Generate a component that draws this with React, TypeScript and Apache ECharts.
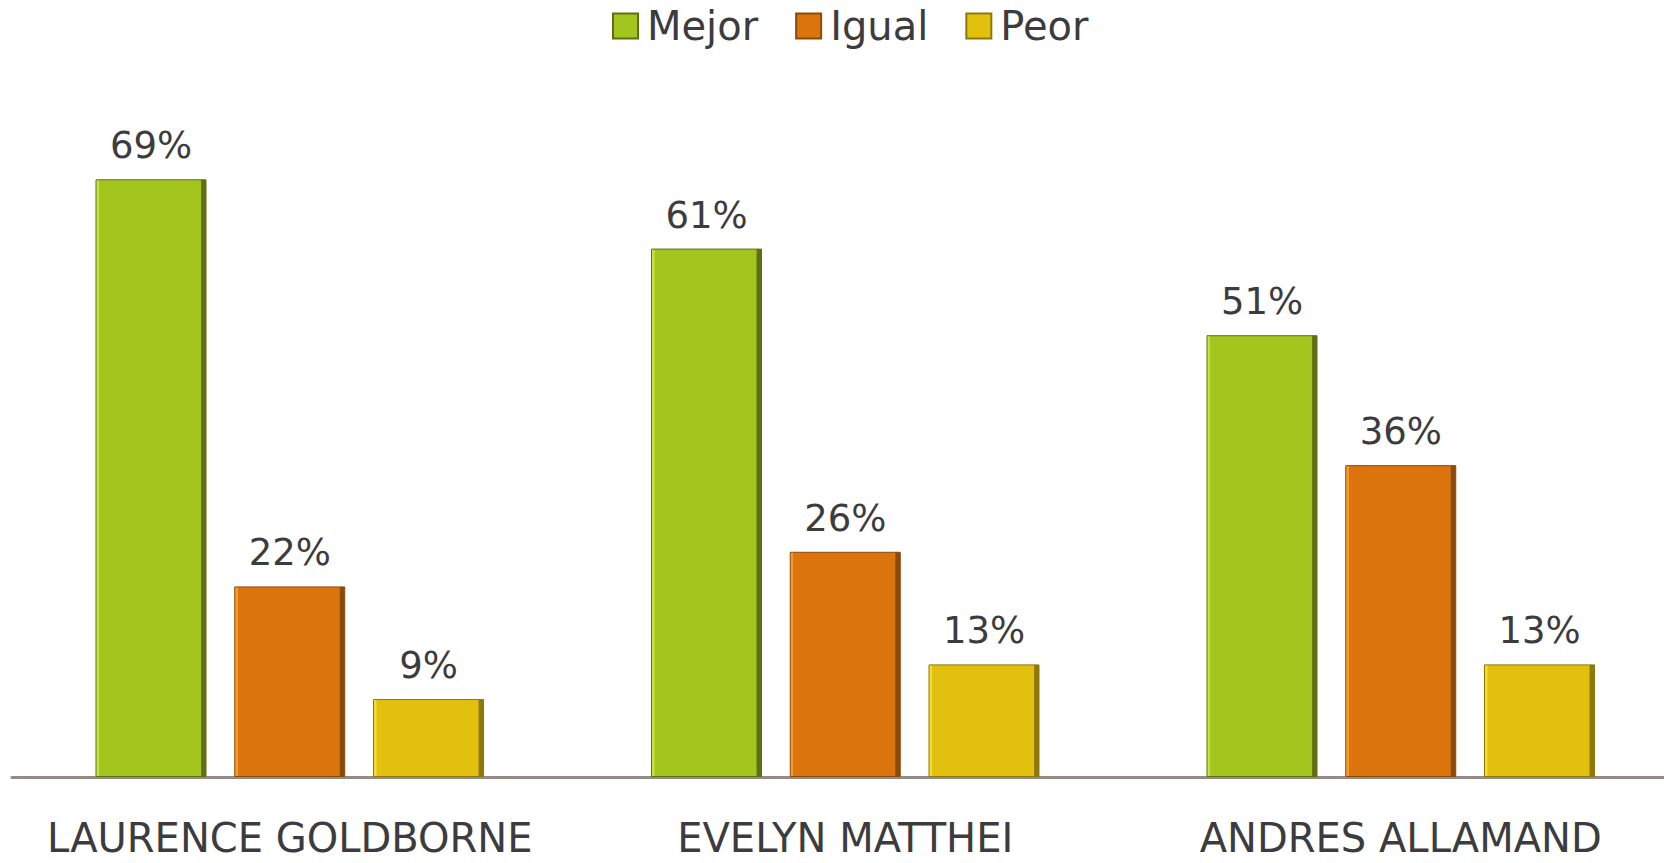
import React, { useEffect, useRef } from "react";
import * as echarts from "echarts";

const categories = ["LAURENCE GOLDBORNE", "EVELYN MATTHEI", "ANDRES ALLAMAND"];
const seriesNames = ["Mejor", "Igual", "Peor"];
const mejor = [69, 61, 51];
const igual = [22, 26, 36];
const peor = [9, 13, 13];

const palette = [
  { main: "#A3C51E", light: "#C4E242", dark: "#5F7012" },
  { main: "#DB740C", light: "#F59A2C", dark: "#8A4A08" },
  { main: "#E2C00E", light: "#F7DA30", dark: "#8E7808" },
];

const FONT = "'DejaVu Sans', sans-serif";
const TEXT = "#3c3c3e";

function barColor(p: { main: string; light: string; dark: string }) {
  return new echarts.graphic.LinearGradient(0, 0, 1, 0, [
    { offset: 0, color: p.light },
    { offset: 0.025, color: p.light },
    { offset: 0.03, color: p.main },
    { offset: 0.95, color: p.main },
    { offset: 0.96, color: p.dark },
    { offset: 1, color: p.dark },
  ]);
}

export default function App() {
  const ref = useRef<HTMLDivElement>(null);
  useEffect(() => {
    if (!ref.current) return;
    const chart = echarts.init(ref.current, undefined, { renderer: "svg" });
    const data = [mejor, igual, peor];
    chart.setOption({
      animation: false,
      backgroundColor: "#ffffff",
      legend: {
        left: 607,
        top: 1,
        itemWidth: 25,
        itemHeight: 25,
        itemGap: 37,
        icon: "rect",
        textStyle: { fontFamily: FONT, fontSize: 40, color: TEXT, padding: [0, 0, 0, 4] },
        data: seriesNames.map((n, i) => ({
          name: n,
          itemStyle: {
            color: palette[i].main,
            borderColor: palette[i].dark,
            borderWidth: 2,
          },
        })),
      },
      grid: { left: 12, right: 1.5, top: 84, bottom: 86 },
      xAxis: {
        type: "category",
        data: categories,
        axisLine: { show: true, lineStyle: { color: "#968a86", width: 3 } },
        axisTick: { show: false },
        axisLabel: {
          interval: 0,
          margin: 41,
          fontFamily: FONT,
          fontSize: 40,
          lineHeight: 40,
          color: TEXT,
        },
      },
      yAxis: {
        type: "value",
        min: 0,
        max: 80,
        show: false,
        splitLine: { show: false },
      },
      series: seriesNames.map((n, i) => ({
        name: n,
        type: "bar",
        data: data[i],
        barWidth: 111,
        barGap: "25%",
        itemStyle: {
          color: barColor(palette[i]),
          borderColor: palette[i].dark,
          borderWidth: 1,
        },
        label: {
          show: true,
          position: "top",
          distance: 15,
          formatter: "{c}%",
          fontFamily: FONT,
          fontSize: 37,
          color: TEXT,
        },
      })),
    });
    return () => chart.dispose();
  }, []);
  return (
    <div
      style={{
        position: "absolute",
        left: 0,
        top: 0,
        width: 1664,
        height: 863,
        overflow: "hidden",
        background: "#ffffff",
      }}
    >
      <div ref={ref} style={{ width: 1680, height: 863 }} />
    </div>
  );
}
